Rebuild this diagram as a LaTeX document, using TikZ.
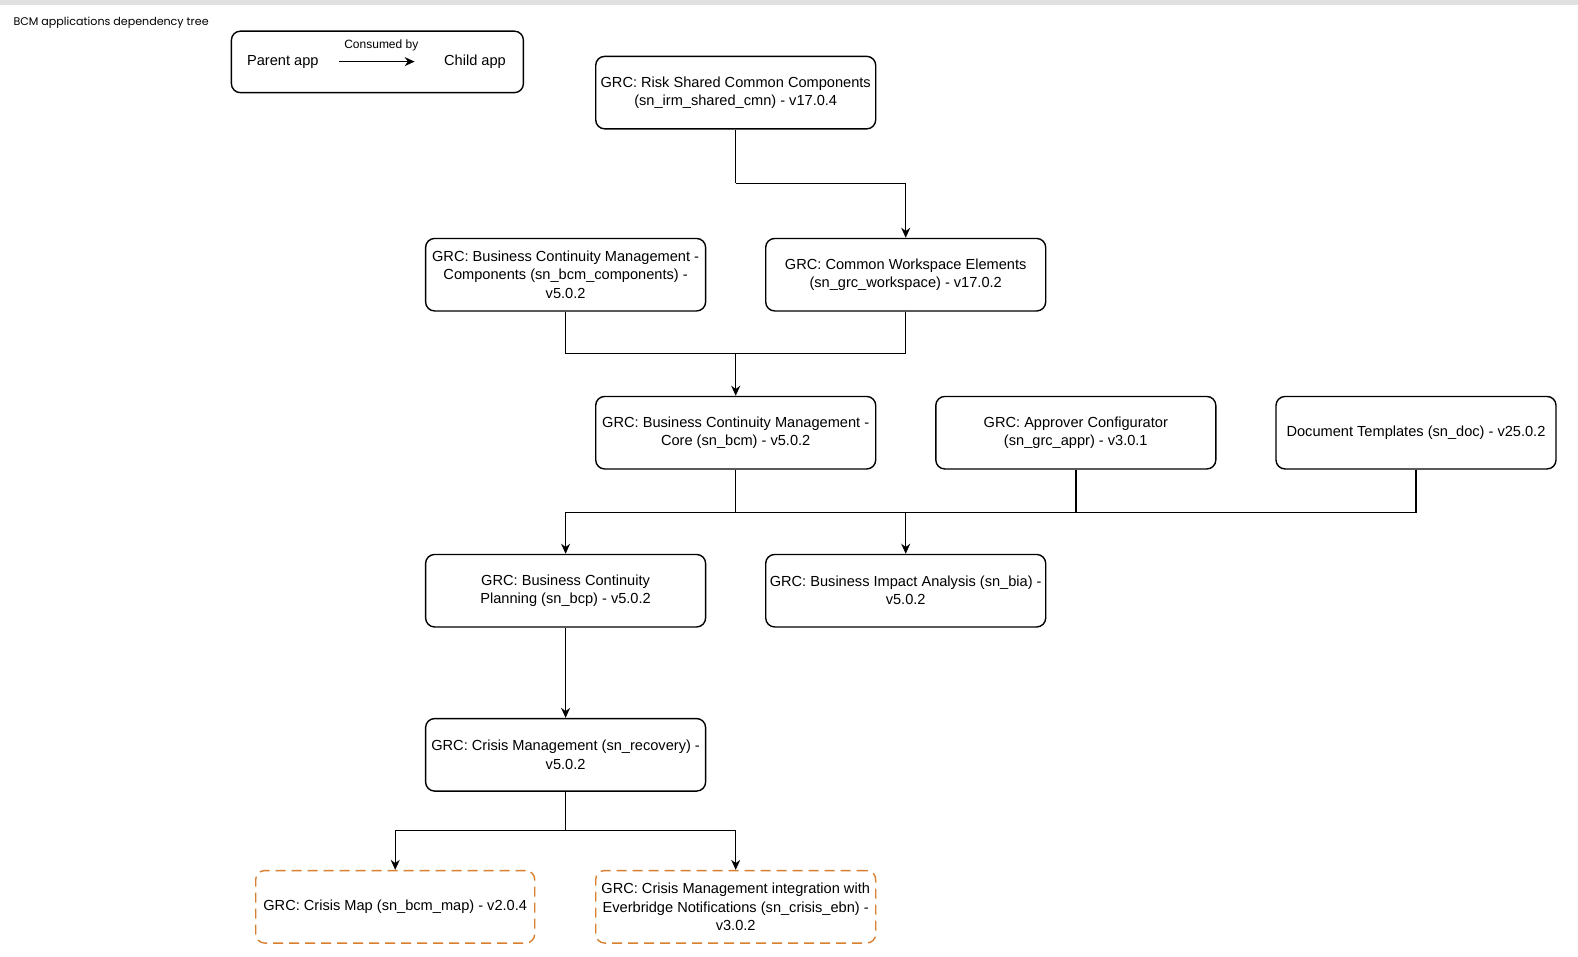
\documentclass[tikz,border=0pt]{standalone}
\usepackage{fontspec}
\setmainfont{Liberation Sans}
\newfontfamily\titlefont{Poppins}
\usetikzlibrary{arrows.meta}
\definecolor{dashorange}{RGB}{217,128,48}
\definecolor{topgray}{RGB}{224,224,224}
\begin{document}
\begin{tikzpicture}[x=1pt, y=-1pt,
	app/.style = {draw, rounded corners=9pt, line width=1.4pt, minimum width=280pt, minimum height=72.5pt, align=center, inner sep=2pt, font=\fontsize{14.6}{18.1}\selectfont},
	leaf/.style = {app, draw=dashorange, dash pattern=on 10pt off 6pt},
	legendbox/.style = {draw, rounded corners=9pt, line width=1.4pt, minimum width=292pt, minimum height=61.5pt},
	plain/.style = {font=\fontsize{14.6}{18.1}\selectfont},
	link/.style = {line width=1.4pt, line join=miter},
	>={Stealth[length=10pt, width=9pt]}]
	\useasboundingbox (0,0) rectangle (1578,956);
	\fill[topgray] (0,0) rectangle (1578,5);
	\node[anchor=west, font=\titlefont\fontsize{11.1}{13}\selectfont] (title) at (10,22.5) {BCM applications dependency tree};
	\node[legendbox] (leg) at (377.4,61.9) {};
	\node[plain] (par) at (282.8,61.6) {Parent app};
	\node[plain] (chi) at (475,61.6) {Child app};
	\draw[link, ->, shorten <=17pt, shorten >=26pt] (par) -- (chi) node[midway, above=7pt, font=\fontsize{12}{14}\selectfont] (cons) {Consumed by};
	\node[app] (rsc) at (735.7,92.6) {GRC: Risk Shared Common Components\\(sn\_irm\_shared\_cmn) - v17.0.4};
	\node[app] (bcmc) at (565.6,274.7) {GRC: Business Continuity Management -\\Components (sn\_bcm\_components) -\\v5.0.2};
	\node[app] (cwe) at (905.7,274.7) {GRC: Common Workspace Elements\\(sn\_grc\_workspace) - v17.0.2};
	\node[app] (core) at (735.7,432.7) {GRC: Business Continuity Management -\\Core (sn\_bcm) - v5.0.2};
	\node[app] (appr) at (1075.8,432.7) {GRC: Approver Configurator\\(sn\_grc\_appr) - v3.0.1};
	\node[app] (doc) at (1416,432.7) {Document Templates (sn\_doc) - v25.0.2};
	\node[app] (bcp) at (565.6,590.7) {GRC: Business Continuity\\Planning (sn\_bcp) - v5.0.2};
	\node[app] (bia) at (905.7,590.7) {GRC: Business Impact Analysis (sn\_bia) -\\v5.0.2};
	\node[app] (crisis) at (565.6,754.8) {GRC: Crisis Management (sn\_recovery) -\\v5.0.2};
	\node[leaf, minimum width=279pt] (map) at (395.2,906.8) {GRC: Crisis Map (sn\_bcm\_map) - v2.0.4};
	\node[leaf] (ebn) at (735.7,906.8) {GRC: Crisis Management integration with\\Everbridge Notifications (sn\_crisis\_ebn) -\\v3.0.2};
	\coordinate (j0) at (735.7,183.2);
	\coordinate (j1) at (735.7,353.2);
	\coordinate (j2) at (735.7,512.2);
	\coordinate (j3) at (565.6,830.3);
	\draw[link] (rsc) -- (j0);
	\draw[link, ->] (j0) -| (cwe);
	\draw[link] (bcmc) |- (j1);
	\draw[link] (cwe) |- (j1);
	\draw[link, ->] (j1) -- (core);
	\draw[link] (core) -- (j2);
	\draw[link] (appr) |- (j2);
	\draw[link] (doc) |- (j2);
	\draw[link, ->] (j2) -| (bcp);
	\draw[link, ->] (j2) -| (bia);
	\draw[link, ->] (bcp) -- (crisis);
	\draw[link] (crisis) -- (j3);
	\draw[link, ->] (j3) -| (map);
	\draw[link, ->] (j3) -| (ebn);
\end{tikzpicture}
\end{document}
